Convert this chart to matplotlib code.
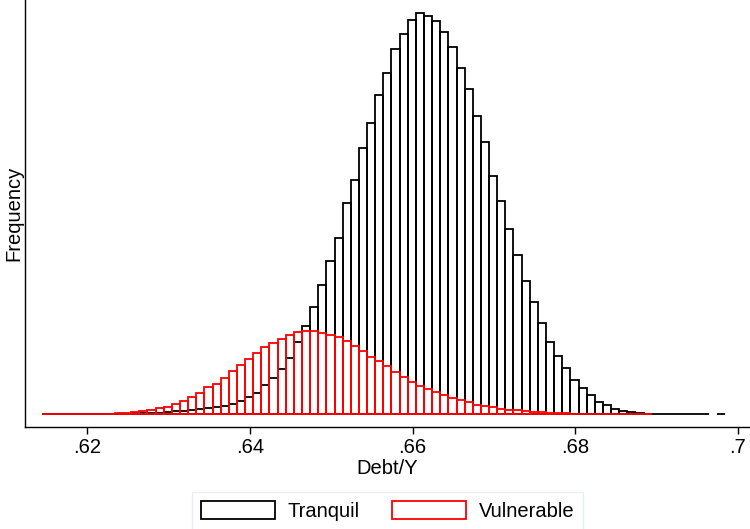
import numpy as np
import matplotlib
matplotlib.use("Agg")
import matplotlib.pyplot as plt
from matplotlib.patches import Patch

plt.rcParams['font.family'] = ['Liberation Sans', 'DejaVu Sans']

# ------------------------------------------------------------
# Histogram data (y units are arbitrary)
# ------------------------------------------------------------
bin_start = 0.6144
bin_width = 0.001

tranquil = [0.05, 0.05, 0.1, 0.1, 0.15, 0.2, 0.3, 0.4, 0.5,
            0.6, 0.8, 1.0, 1.2, 1.3, 1.6,
            2.3, 3.0, 3.3, 4.3, 5.0, 6.0, 7.3, 8.3, 10.3, 13.0,
            17.0, 21.6, 29.0, 36.8, 45.1, 56.8, 72.6, 88.4, 107.3, 129.6,
            153.0, 176.3, 211.0, 234.3, 266.6, 291.6, 319.6, 341.0, 365.6, 380.3,
            394.3, 401.0, 398.0, 393.3, 382.3, 367.6, 346.3, 325.3, 298.6, 272.3,
            238.6, 213.6, 185.6, 159.0, 133.0, 112.6, 91.3, 72.6, 58.6, 46.0,
            34.3, 26.0, 19.0, 12.6, 9.0, 5.6, 3.6, 2.0, 1.0, 0.6,
            0.4, 0.3, 0.2, 0.15, 0.1, 0.1, 0.05, 0, 0.05]

vulnerable = [0.05, 0.05, 0.1, 0.1, 0.15, 0.2, 0.3, 0.4, 0.6,
              1.0, 1.6, 2.3, 3.3, 4.3, 6.0, 7.6, 10.0, 13.0, 17.0,
              21.0, 27.0, 30.6, 36.0, 43.0, 49.0, 55.0, 61.0, 67.6, 71.6,
              75.6, 79.6, 82.3, 83.6, 83.6, 81.3, 79.6, 77.0, 73.3, 68.3,
              63.0, 57.6, 53.0, 48.3, 42.6, 37.0, 32.3, 28.6, 25.6, 22.3,
              19.3, 16.0, 14.0, 12.0, 9.6, 8.3, 7.0, 5.6, 4.6, 4.0,
              3.3, 2.6, 2.0, 1.6, 1.3, 1.0, 0.7, 0.6, 0.5, 0.4,
              0.3, 0.25, 0.2, 0.15, 0.1, 0.1]

xticks = [0.62, 0.64, 0.66, 0.68, 0.70]
xtick_labels = ['.62', '.64', '.66', '.68', '.7']

# ------------------------------------------------------------
# Figure
# ------------------------------------------------------------
fig = plt.figure(figsize=(7.5, 5.29), dpi=100)
ax = fig.add_axes([25 / 750, 1 - 427.3 / 529, 1 - 25 / 750, 427.3 / 529])


def draw_hist(values, color):
    values = np.asarray(values, dtype=float)
    lefts = bin_start + bin_width * np.arange(len(values))
    keep = values > 0
    ax.bar(lefts[keep], values[keep], width=bin_width, align='edge',
           facecolor='none', edgecolor=color, linewidth=1.3)


draw_hist(tranquil, 'black')
draw_hist(vulnerable, '#ff0000')

ax.set_xlim(0.61234, 0.70148)
ax.set_ylim(-13, 414.3)

for side in ['top', 'right']:
    ax.spines[side].set_visible(False)
for side in ['left', 'bottom']:
    ax.spines[side].set_linewidth(1.0)
    ax.spines[side].set_color('black')

ax.set_yticks([])
ax.set_xticks(xticks)
ax.set_xticklabels(xtick_labels, fontsize=14.5)
ax.tick_params(axis='x', direction='out', length=5, width=1.0, pad=2.5)

ax.set_xlabel('Debt/Y', fontsize=14.5, labelpad=2)
ax.set_ylabel('Frequency', fontsize=14.5, labelpad=1)

handles = [Patch(facecolor='white', edgecolor='black', linewidth=1.3, label='Tranquil'),
           Patch(facecolor='white', edgecolor='#ff0000', linewidth=1.3, label='Vulnerable')]
leg = fig.legend(handles=handles, loc='upper center', ncol=2,
                 bbox_to_anchor=(387.5 / 750, 1 - 492.3 / 529),
                 fontsize=14.5, frameon=True, fancybox=False,
                 handlelength=3.7, handleheight=1.0, handletextpad=0.6,
                 columnspacing=1.6, borderpad=0.45, borderaxespad=0)
leg.get_frame().set_edgecolor('#e3eaee')
leg.get_frame().set_linewidth(1.0)

fig.savefig('out.png', dpi=100)
